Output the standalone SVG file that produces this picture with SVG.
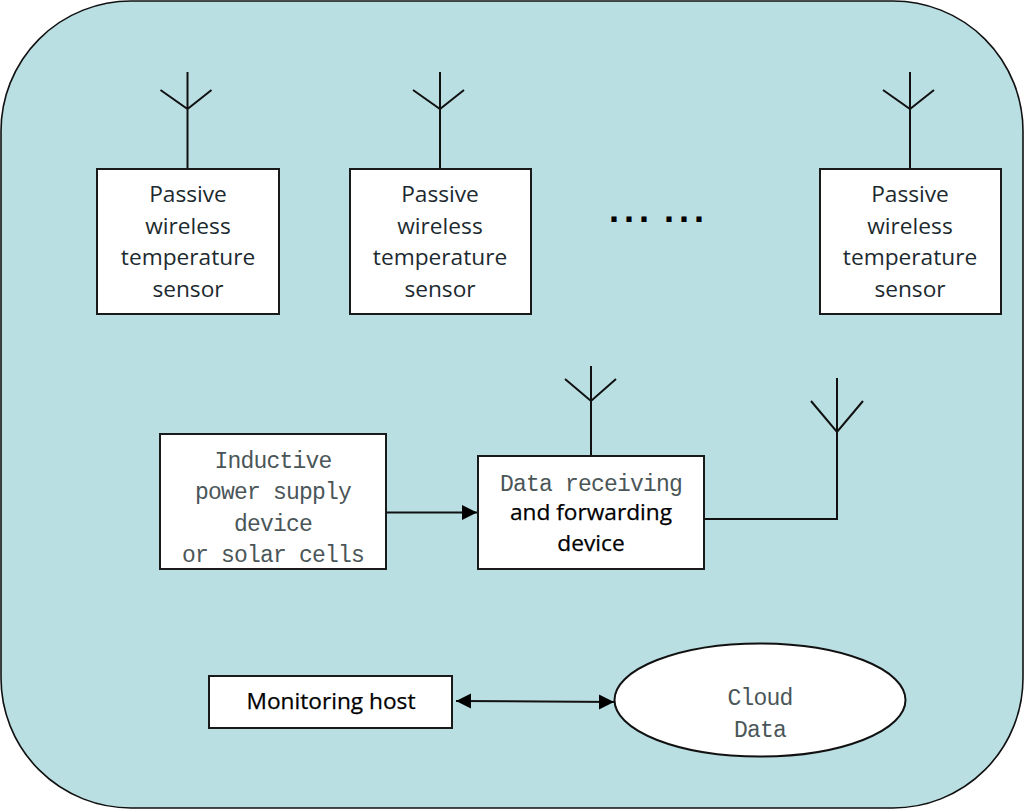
<svg xmlns="http://www.w3.org/2000/svg" width="1024" height="809" viewBox="0 0 1024 809">
<style>
.box{fill:#fff;stroke:#1a1a1a;stroke-width:2}
.ln{fill:none;stroke:#111;stroke-width:2}
.s{font-family:"Open Sans","Noto Sans",sans-serif;font-size:22.7px;fill:#1c2a30;text-anchor:middle}
.b{font-family:"Open Sans","Noto Sans",sans-serif;font-size:22.7px;fill:#000;text-anchor:middle;stroke:#000;stroke-width:.25}
.m{font-family:"Liberation Mono",monospace;font-size:23px;letter-spacing:-.8px;fill:#4a5658;text-anchor:middle}
</style>
<defs>
<marker id="ah" markerUnits="userSpaceOnUse" markerWidth="16" markerHeight="16" refX="15" refY="7.5" orient="auto-start-reverse"><path d="M0 0L15 7.5L0 15Z" fill="#000"/></marker>
<g id="ant"><path class="ln" d="M0 -97V0M-27 -79L0 -60L24 -79"/></g>
</defs>
<rect id="background" x="1" y="1" width="1022" height="807" rx="130" ry="130" fill="#b9dfe3" stroke="#111" stroke-width="1.6"/>
<g id="connectors">
<use href="#ant" x="187.500" y="169"/>
<use href="#ant" x="440" y="169"/>
<use href="#ant" x="910" y="169"/>
<path class="ln" d="M591 366V456M565 379L591 401L616 379"/>
<path class="ln" d="M705 519H837V378M811 401L837 432L863 401"/>
<path class="ln" d="M387 512.500H477" marker-end="url(#ah)"/>
<path class="ln" d="M456 701L614 702" marker-start="url(#ah)" marker-end="url(#ah)"/>
</g>
<g id="sensor1"><rect class="box" x="97" y="169" width="182" height="145"/><text class="s"><tspan x="188" y="202">Passive</tspan><tspan x="188" y="234">wireless</tspan><tspan x="188" y="265">temperature</tspan><tspan x="188" y="297">sensor</tspan></text></g>
<g id="sensor2"><rect class="box" x="350" y="169" width="181" height="145"/><text class="s"><tspan x="440" y="202">Passive</tspan><tspan x="440" y="234">wireless</tspan><tspan x="440" y="265">temperature</tspan><tspan x="440" y="297">sensor</tspan></text></g>
<g id="sensor3"><rect class="box" x="820" y="169" width="181" height="145"/><text class="s"><tspan x="910" y="202">Passive</tspan><tspan x="910" y="234">wireless</tspan><tspan x="910" y="265">temperature</tspan><tspan x="910" y="297">sensor</tspan></text></g>
<g id="ellipsis"><text x="609" y="222" font-family="Liberation Sans,sans-serif" font-size="36" font-weight="700" fill="#000" letter-spacing="5" word-spacing="-5">... ...</text></g>
<g id="power"><rect class="box" x="160" y="434" width="226" height="135"/><text class="m"><tspan x="273" y="468">Inductive</tspan><tspan x="273" y="499">power supply</tspan><tspan x="273" y="531">device</tspan><tspan x="273" y="562">or solar cells</tspan></text></g>
<g id="forward"><rect class="box" x="478" y="456" width="226" height="113"/><text class="m" x="591" y="491">Data receiving</text><text class="b"><tspan x="591" y="520">and forwarding</tspan><tspan x="591" y="551">device</tspan></text></g>
<g id="host"><rect class="box" x="209" y="676" width="243" height="52"/><text class="b" x="331" y="709">Monitoring host</text></g>
<g id="cloud"><ellipse cx="760" cy="700" rx="145.500" ry="56.500" fill="#fff" stroke="#111" stroke-width="2"/><text class="m"><tspan x="760" y="705">Cloud</tspan><tspan x="760" y="737">Data</tspan></text></g>
</svg>
